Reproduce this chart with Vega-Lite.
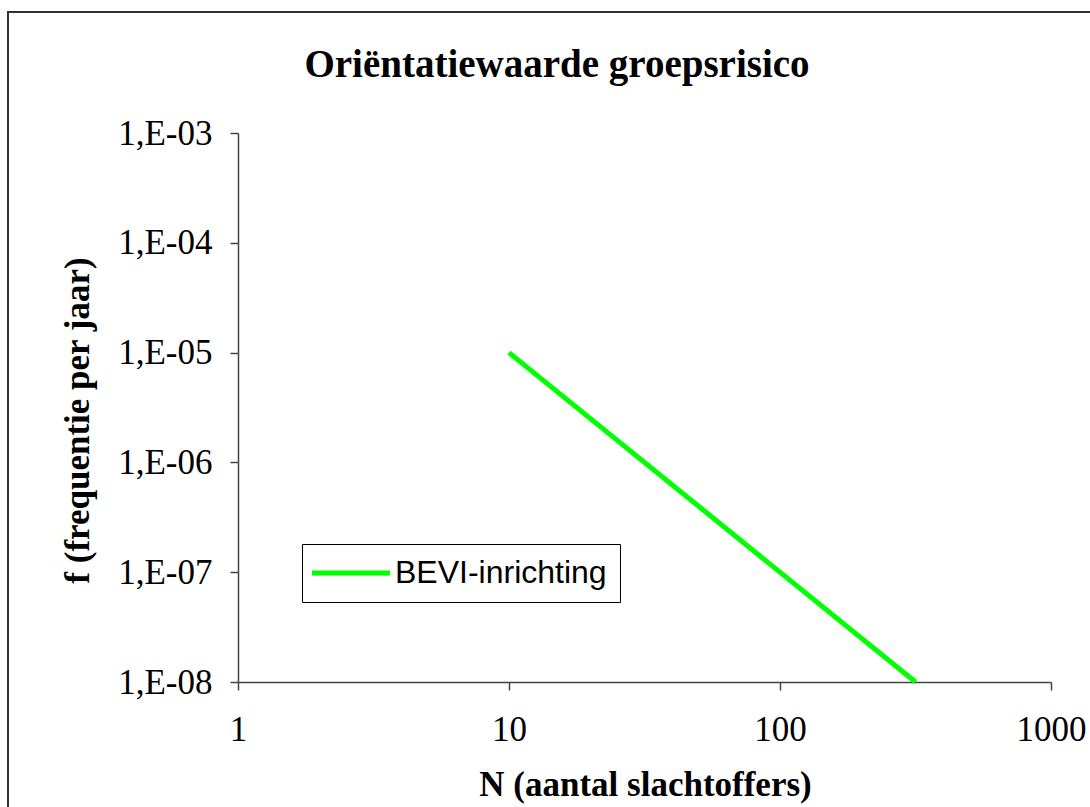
{
  "$schema": "https://vega.github.io/schema/vega-lite/v6.json",
  "width": 1098,
  "height": 820,
  "autosize": {"type": "none"},
  "padding": {"left": 8, "top": 12, "right": 0, "bottom": 0},
  "background": "white",
  "title": {
    "text": "Oriëntatiewaarde groepsrisico",
    "font": "Liberation Serif",
    "fontSize": 39,
    "fontWeight": "bold",
    "color": "black",
    "anchor": "middle",
    "frame": "group",
    "baseline": "alphabetic",
    "offset": -104
  },
  "data": {
    "values": [
      {"N": 10, "f": 1e-5, "serie": "BEVI-inrichting"},
      {"N": 316.23, "f": 1e-8, "serie": "BEVI-inrichting"}
    ]
  },
  "mark": {"type": "line", "strokeWidth": 5},
  "encoding": {
    "x": {
      "field": "N",
      "type": "quantitative",
      "scale": {"type": "log", "domain": [1, 1000], "range": [230, 1043], "nice": false},
      "axis": {
        "orient": "bottom",
        "offset": -150,
        "values": [1, 10, 100, 1000],
        "format": "d",
        "grid": false,
        "tickSize": 8,
        "tickColor": "#444",
        "domainColor": "#444",
        "domainWidth": 1.5,
        "tickWidth": 1.5,
        "labelFont": "Liberation Serif",
        "labelFontSize": 35,
        "labelColor": "black",
        "labelBaseline": "alphabetic",
        "labelPadding": 50,
        "labelFlush": false,
        "labelOverlap": false,
        "title": "N (aantal slachtoffers)",
        "titleFont": "Liberation Serif",
        "titleFontSize": 35,
        "titleFontWeight": "bold",
        "titleColor": "black",
        "titleX": 637,
        "titleY": 113,
        "titleAlign": "center",
        "titleBaseline": "alphabetic"
      }
    },
    "y": {
      "field": "f",
      "type": "quantitative",
      "scale": {"type": "log", "domain": [1e-8, 1e-3], "range": [670, 121], "nice": false},
      "axis": {
        "orient": "left",
        "offset": -230,
        "values": [1e-8, 1e-7, 1e-6, 1e-5, 1e-4, 1e-3],
        "labelExpr": "'1,E-0' + round(-log(datum.value)/LN10)",
        "grid": false,
        "tickSize": 8,
        "tickColor": "#444",
        "domainColor": "#444",
        "domainWidth": 1.5,
        "tickWidth": 1.5,
        "labelFont": "Liberation Serif",
        "labelFontSize": 35,
        "labelColor": "black",
        "labelBaseline": "middle",
        "labelPadding": 18,
        "labelFlush": false,
        "labelOverlap": false,
        "title": "f (frequentie per jaar)",
        "titleFont": "Liberation Serif",
        "titleFontSize": 35,
        "titleFontWeight": "bold",
        "titleColor": "black",
        "titleAngle": -90,
        "titleX": -150,
        "titleY": 408,
        "titleAlign": "center",
        "titleBaseline": "alphabetic"
      }
    },
    "color": {
      "field": "serie",
      "type": "nominal",
      "scale": {"range": ["#00ff00"]},
      "legend": {
        "title": null,
        "orient": "none",
        "legendX": 294,
        "legendY": 532,
        "direction": "vertical",
        "padding": 13,
        "strokeColor": "black",
        "fillColor": "white",
        "cornerRadius": 0,
        "symbolType": "M-3,0H3",
        "symbolSize": 676,
        "symbolStrokeWidth": 5,
        "symbolStrokeColor": "#00ff00",
        "symbolOffset": 20,
        "labelOffset": 28,
        "labelFont": "Liberation Sans",
        "labelFontSize": 32,
        "labelColor": "black",
        "labelLimit": 400
      }
    }
  },
  "config": {
    "view": {"stroke": "#333", "strokeWidth": 2}
  }
}
